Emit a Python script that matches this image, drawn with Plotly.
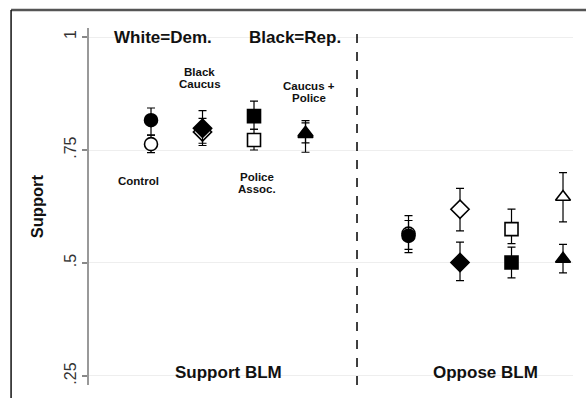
import plotly.graph_objects as go

# Treatment conditions, shown left to right within each panel
conditions = ["Control", "Black Caucus", "Police Assoc.", "Caucus + Police"]
condition_symbols = ["circle", "diamond", "square", "triangle-up"]
panels = ["Support BLM", "Oppose BLM"]

# White = Democratic respondents (open markers)
dem_support = [0.763, 0.790, 0.772, 0.785]
dem_support_lo = [0.744, 0.760, 0.750, 0.745]
dem_support_hi = [0.783, 0.820, 0.796, 0.810]
dem_oppose = [0.565, 0.619, 0.575, 0.646]
dem_oppose_lo = [0.530, 0.571, 0.543, 0.591]
dem_oppose_hi = [0.605, 0.665, 0.619, 0.700]

# Black = Republican respondents (filled markers)
rep_support = [0.816, 0.798, 0.825, 0.788]
rep_support_lo = [0.783, 0.765, 0.796, 0.766]
rep_support_hi = [0.843, 0.837, 0.858, 0.815]
rep_oppose = [0.560, 0.501, 0.501, 0.509]
rep_oppose_lo = [0.523, 0.461, 0.467, 0.478]
rep_oppose_hi = [0.594, 0.546, 0.535, 0.541]

y_ticks = [0.25, 0.5, 0.75, 1.0]
y_tick_text = [".25", ".5", ".75", "1"]

n = len(conditions)
x_support = [i + 1 for i in range(n)]
x_oppose = [i + 2 + n for i in range(n)]
x_divider = n + 1

BOLD = "Liberation Sans, Arial, sans-serif"

fig = go.Figure()


def add_points(xs, ys, lo, hi, filled, name):
    for x, y, l, h, sym in zip(xs, ys, lo, hi, condition_symbols):
        fig.add_trace(go.Scatter(
            x=[x], y=[y], mode="markers", name=name, showlegend=False,
            marker=dict(symbol=sym, size=13 if sym != "diamond" else 14,
                        color="black" if filled else "white",
                        line=dict(color="black", width=1.6)),
            error_y=dict(type="data", symmetric=False,
                         array=[h - y], arrayminus=[y - l],
                         color="black", thickness=1.2, width=4),
        ))


# open markers first so the filled ones sit on top where they overlap
add_points(x_support, dem_support, dem_support_lo, dem_support_hi, False, "White=Dem.")
add_points(x_oppose, dem_oppose, dem_oppose_lo, dem_oppose_hi, False, "White=Dem.")
add_points(x_support, rep_support, rep_support_lo, rep_support_hi, True, "Black=Rep.")
add_points(x_oppose, rep_oppose, rep_oppose_lo, rep_oppose_hi, True, "Black=Rep.")

# dashed divider between the two panels
fig.add_shape(type="line", xref="x", yref="paper", x0=x_divider, x1=x_divider,
              y0=0, y1=1, line=dict(color="black", width=1.5, dash="dash"))

# outer frame (top and left edges)
fig.add_shape(type="line", xref="paper", yref="paper", x0=-0.161, x1=1.03,
              y0=1.0504, y1=1.0504, line=dict(color="#555555", width=2.5))
fig.add_shape(type="line", xref="paper", yref="paper", x0=-0.161, x1=-0.161,
              y0=-0.05, y1=1.0504, line=dict(color="#111111", width=1.5))


def label(text, x, y, size, line_gap=12):
    lines = text.split("\n")
    k = len(lines)
    for j, t in enumerate(lines):
        fig.add_annotation(x=x, y=y, xref="x", yref="y", text=f"<b>{t}</b>",
                           showarrow=False, xanchor="center", yanchor="middle",
                           yshift=((k - 1) / 2 - j) * line_gap,
                           font=dict(family=BOLD, size=size, color="#111111"))


label("White=Dem.", 1.23, 1.0, 17)
label("Black=Rep.", 3.80, 1.0, 17)
label("Black\nCaucus", 1.95, 0.909, 11.5)
label("Control", 0.75, 0.681, 11.5)
label("Police\nAssoc.", 3.05, 0.677, 11.5)
label("Caucus +\nPolice", 4.07, 0.878, 11.5)
label(panels[0], (x_support[0] + x_support[-1]) / 2, 0.257, 17)
label(panels[1], (x_oppose[0] + x_oppose[-1]) / 2, 0.257, 17)

fig.add_annotation(xref="paper", yref="paper", x=-0.108, y=0.50, text="<b>Support</b>",
                   showarrow=False, textangle=-90, xanchor="center", yanchor="middle",
                   font=dict(family=BOLD, size=16.5, color="#111111"))

fig.update_layout(
    width=586, height=398,
    margin=dict(l=89, r=13, t=28, b=13),
    paper_bgcolor="white", plot_bgcolor="white",
    xaxis=dict(range=[-0.204, 9.194], showgrid=False, zeroline=False,
               showticklabels=False, showline=False, ticks=""),
    yaxis=dict(range=[0.23, 1.02], tickvals=y_ticks, ticktext=y_tick_text,
               tickangle=-90, ticks="outside", ticklen=5, tickwidth=1.5,
               tickcolor="#888888", showline=True, linecolor="#999999", linewidth=2,
               showgrid=True, gridcolor="#eeeeee", gridwidth=1, zeroline=False,
               tickfont=dict(family=BOLD, size=16, color="#333333")),
)

fig.write_html("out.html")
